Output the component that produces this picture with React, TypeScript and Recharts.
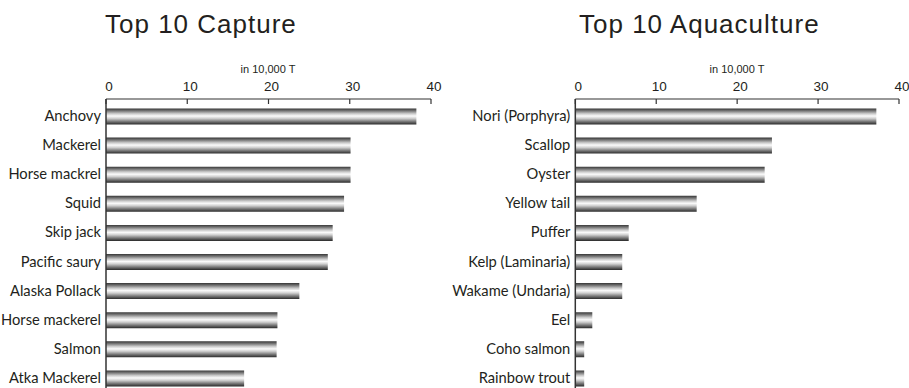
import React from 'react';
import { BarChart, Bar, XAxis, YAxis } from 'recharts';

// catch in 10,000 tonnes
const captureSpecies = [
  'Anchovy', 'Mackerel', 'Horse mackrel', 'Squid', 'Skip jack',
  'Pacific saury', 'Alaska Pollack', 'Horse mackerel', 'Salmon', 'Atka Mackerel',
];
const captureValues = [38.2, 30.1, 30.1, 29.3, 27.9, 27.3, 23.8, 21.1, 21.0, 17.0];

const aquaSpecies = [
  'Nori (Porphyra)', 'Scallop', 'Oyster', 'Yellow tail', 'Puffer',
  'Kelp (Laminaria)', 'Wakame (Undaria)', 'Eel', 'Coho salmon', 'Rainbow trout',
];
const aquaValues = [37.2, 24.3, 23.4, 15.0, 6.6, 5.8, 5.8, 2.1, 1.1, 1.1];

const axisTicks = [0, 10, 20, 30, 40];
const unitLabel = 'in 10,000 T';

const TICK_FONT = '"Liberation Sans", Arial, sans-serif';
const LABEL_FONT = 'Lato, "Noto Sans", sans-serif';
const INK = '#231f20';

const TopTick = ({ x, y, payload }: any) => (
  <text x={x + 3} y={y} textAnchor="middle" fontFamily={TICK_FONT} fontSize={13.5} fill={INK}>
    {payload.value}
  </text>
);

const NameTick = ({ x, y, payload }: any) => (
  <text x={x} y={y} dy={5} textAnchor="end" fontFamily={LABEL_FONT} fontSize={14.7} fill={INK}>
    {payload.value}
  </text>
);

interface PanelProps {
  id: string;
  names: string[];
  values: number[];
  width: number;
  yAxisWidth: number;
  left: number;
  right: number;
}

const Panel = ({ id, names, values, width, yAxisWidth, left, right }: PanelProps) => {
  const data = names.map((name, i) => ({ name, value: values[i] }));
  return (
    <BarChart
      width={width}
      height={400}
      data={data}
      layout="vertical"
      margin={{ top: 60, right, bottom: 5, left }}
      barCategoryGap={0}
    >
      <defs>
        <linearGradient id={id} x1="0" y1="0" x2="0" y2="1">
          <stop offset="0%" stopColor="#363636" />
          <stop offset="14%" stopColor="#737373" />
          <stop offset="32%" stopColor="#c9c9c9" />
          <stop offset="47%" stopColor="#fbfbfb" />
          <stop offset="62%" stopColor="#d0d0d0" />
          <stop offset="82%" stopColor="#767676" />
          <stop offset="100%" stopColor="#2a2a2a" />
        </linearGradient>
      </defs>
      <XAxis
        type="number"
        orientation="top"
        domain={[0, 40]}
        ticks={axisTicks}
        height={39}
        tickSize={-5}
        tickMargin={13.5}
        stroke="#333"
        axisLine={{ stroke: '#333', strokeWidth: 1.2 }}
        tickLine={{ stroke: '#333', strokeWidth: 1.2 }}
        tick={<TopTick />}
        allowDataOverflow
      />
      <YAxis
        type="category"
        dataKey="name"
        width={yAxisWidth}
        padding={{ top: 2.5, bottom: 2.5 }}
        tickSize={0}
        tickMargin={5}
        tickLine={false}
        axisLine={{ stroke: '#333', strokeWidth: 1.5 }}
        tick={<NameTick />}
        interval={0}
      />
      <Bar dataKey="value" fill={`url(#${id})`} barSize={16} isAnimationActive={false} />
    </BarChart>
  );
};

export default function App() {
  return (
    <div
      style={{
        position: 'absolute',
        left: 0,
        top: 0,
        width: 909,
        height: 388,
        overflow: 'hidden',
        background: '#fff',
      }}
    >
      <div style={{ position: 'absolute', left: 440, top: 0 }}>
        <Panel id="aquaFill" names={aquaSpecies} values={aquaValues}
          width={469} yAxisWidth={130} left={5.3} right={10} />
      </div>
      <div style={{ position: 'absolute', left: 0, top: 0 }}>
        <Panel id="captureFill" names={captureSpecies} values={captureValues}
          width={455} yAxisWidth={100} left={6} right={24} />
      </div>
      <svg width={909} height={388} style={{ position: 'absolute', left: 0, top: 0, pointerEvents: 'none' }}>
        <text x={105} y={33} fontFamily={TICK_FONT} fontSize={26} letterSpacing={1} fill={INK}>Top 10 Capture</text>
        <text x={579} y={33} fontFamily={TICK_FONT} fontSize={26} letterSpacing={1} fill={INK}>Top 10 Aquaculture</text>
        <text x={268} y={73} textAnchor="middle" fontFamily={TICK_FONT} fontSize={11} fill={INK}>{unitLabel}</text>
        <text x={737} y={73} textAnchor="middle" fontFamily={TICK_FONT} fontSize={11} fill={INK}>{unitLabel}</text>
      </svg>
    </div>
  );
}
